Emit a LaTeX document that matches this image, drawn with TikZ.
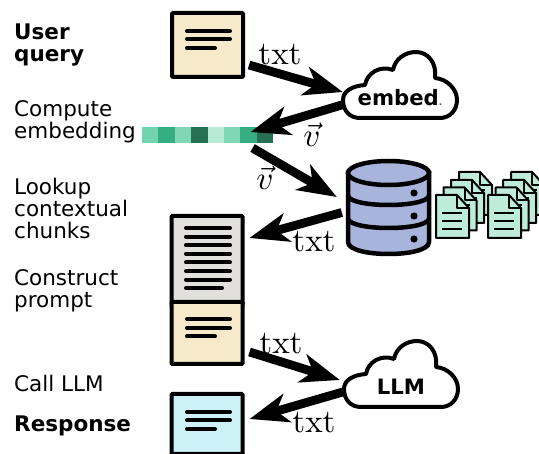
\documentclass[tikz,border=0pt]{standalone}
\usepackage{fontspec}
\newfontfamily\labelfont{DejaVu Sans}
\usetikzlibrary{arrows.meta}
\definecolor{creamfill}{HTML}{F7EACB}
\definecolor{greyfill}{HTML}{E1E0DC}
\definecolor{cyanfill}{HTML}{CCF2F7}
\definecolor{dbfill}{HTML}{A9B4DC}
\definecolor{pagefill}{HTML}{BDECDB}
\definecolor{cellA}{HTML}{72D3AF}
\definecolor{cellB}{HTML}{35AE83}
\definecolor{cellC}{HTML}{82D6B8}
\definecolor{cellD}{HTML}{267053}
\definecolor{cellE}{HTML}{B8EAD7}

\begin{document}
\begin{tikzpicture}[
x=1pt, y=-1pt,
   flow/.style = {draw, line width=8.8pt, black, -{Stealth[length=39pt, width=29pt, inset=11pt]}},
   side/.style = {anchor=west, inner sep=0pt, align=left,
                  font=\labelfont\fontsize{21.5}{22}\selectfont},
sidebold/.style = {side, font=\labelfont\bfseries\fontsize{21.5}{22}\selectfont},
  small/.style = {inner sep=0pt, scale=3.3},
    doc/.style = {draw, line width=4pt, rounded corners=1pt, minimum width=71pt, inner sep=0pt},
  rowline/.style = {draw, line width=4pt, line cap=round},
  cloudbox/.style = {minimum width=114pt, minimum height=41pt, inner sep=0pt,
                  font=\labelfont\bfseries\fontsize{21.2}{22}\selectfont},
  cell/.style = {minimum width=16.4pt, minimum height=16pt, inner sep=0pt, outer sep=0pt},
  bulk/.pic = {
    \draw[line width=4pt, fill=white, line join=round]
      (-40,33) -- (40,33) .. controls (50,33) and (57,25) .. (57,15)
      .. controls (57,4) and (47,-6) .. (35,-7) .. controls (37,-22) and (28,-33) .. (16,-33)
      .. controls (5,-33) and (-5,-26) .. (-7,-15) .. controls (-20,-20) and (-33,-12) .. (-35,0)
      .. controls (-48,1) and (-57,6) .. (-57,15) .. controls (-57,26) and (-50,33) .. (-40,33) -- cycle;
  },
  page/.pic = {
    \draw[line width=2pt, fill=pagefill, line join=round]
      (0,0) -- (21,0) -- (33,13) -- (33,43) -- (0,43) -- cycle;
    \draw[line width=2pt, line join=round] (21,0) -- (21,13) -- (33,13);
    \foreach \r in {18,26,34}
      \draw[line width=2pt] (6,\r) -- (26,\r);
  }
]
\useasboundingbox (0,0) rectangle (539,454);

% left column
\node (lbl1) [sidebold] at (14,45)  {User\\query};
\node (lbl2) [side]     at (14,122) {Compute\\embedding};
\node (lbl3) [side]     at (14,208) {Lookup\\contextual\\chunks};
\node (lbl4) [side]     at (14,291) {Construct\\prompt};
\node (lbl5) [side]     at (14,383) {Call LLM};
\node (lbl6) [sidebold] at (14,426) {Response};

% query
\node (query) [doc, fill=creamfill, minimum height=64pt] at (207.5,45) {};
\foreach \r in {31,39}
  \draw[rowline] (187,\r) -- (230,\r);
\draw[rowline] (187,48) -- (215,48);

% embedding vector
\foreach \c [count=\i] in {cellA,cellB,cellC,cellD,cellE,cellC,cellB,cellD}
  \node (cell\i) [cell, fill=\c] at (150.2+16.4*\i-16.4,135) {};

% clouds
\pic at (400,85) {bulk};
\node (embed) [cloudbox] at (400,98) {embed\textcolor{black!70}{\fontsize{9}{9}\selectfont.}};
\pic at (401,374) {bulk};
\node (llm) [cloudbox] at (401,387) {LLM};

% database
\node (db) [minimum width=85pt, minimum height=97pt, inner sep=0pt] at (388.5,207.5) {};
\draw[line width=4.5pt, fill=dbfill]
  (348,173) -- (348,242) .. controls (348,250) and (368,254) .. (388.5,254)
  .. controls (409,254) and (429,250) .. (429,242) -- (429,173) -- cycle;
\draw[line width=4.5pt, fill=dbfill] (388.5,173) ellipse [x radius=40.5, y radius=12];
\foreach \r in {196,219}
  \draw[line width=4.5pt] (348,\r) .. controls (352,\r+12) and (425,\r+12) .. (429,\r);
\foreach \r in {193,216,239}
  \fill (414,\r) circle [radius=3.6];

% chunks
\foreach \s in {0,52}
  \foreach \o in {23,15,7.5,0}
    \pic at (436+\s+\o,195-\o) {page};

% prompt
\node (context) [doc, fill=greyfill, minimum height=89pt] at (207,260.5) {};
\node (question) [doc, fill=creamfill, minimum height=62pt] at (207,333) {};
\foreach \r in {228,236.6,245.2,253.8,262.4,271,279.6}
  \draw[rowline] (186,\r) -- (230,\r);
\draw[rowline] (186,288) -- (222,288);
\foreach \r in {319,328}
  \draw[rowline] (187,\r) -- (230,\r);
\draw[rowline] (187,336.5) -- (215,336.5);

% response
\node (resp) [doc, fill=cyanfill, minimum height=60pt] at (207,424) {};
\foreach \r in {412,420.5}
  \draw[rowline] (187,\r) -- (230,\r);
\draw[rowline] (187,429) -- (215,429);

% flows
\draw[flow] ([shift={(4,20)}]query.east) -- ([shift={(0,-6)}]embed.west);
\draw[flow] ([shift={(-1,7)}]embed.west) -- ([shift={(2,-3)}]cell7.center);
\draw[flow] ([shift={(4,13)}]cell7.center) -- ([shift={(-9,-10.5)}]db.west);
\draw[flow] ([shift={(-4,5)}]db.west) -- ([shift={(5,-22.5)}]context.east);
\draw[flow] ([shift={(5,19)}]question.east) -- ([shift={(-4,-7)}]llm.west);
\draw[flow] ([shift={(-1,5)}]llm.west) -- ([shift={(5,-5)}]resp.east);

\node (t1)  [small] at (280,55)  {txt};
\node (v1)  [small] at (312,135) {$\vec{v}$};
\node (v2)  [small] at (265,178) {$\vec{v}$};
\node (t2)  [small] at (314,242) {txt};
\node (t3)  [small] at (281,344) {txt};
\node (t4)  [small] at (314,423) {txt};
\end{tikzpicture}
\end{document}
